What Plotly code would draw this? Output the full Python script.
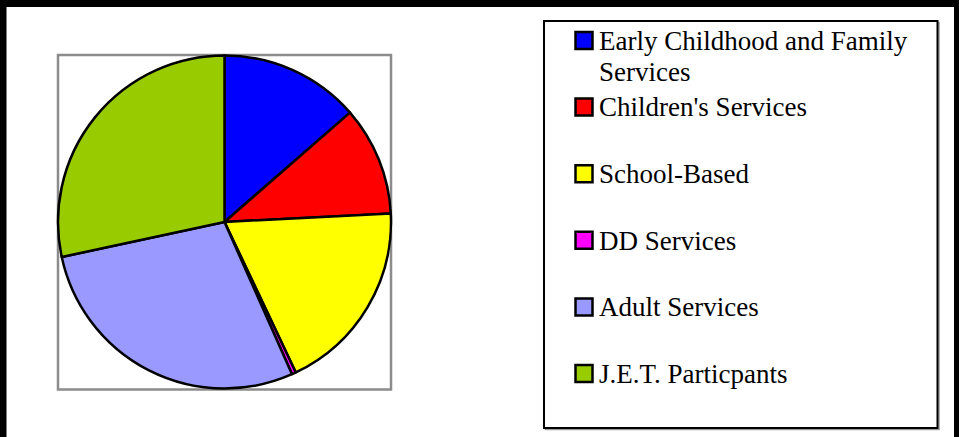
import textwrap
import plotly.graph_objects as go

# ---- data ----
labels = ["Early Childhood and Family Services", "Children's Services", "School-Based",
          "DD Services", "Adult Services", "J.E.T. Particpants"]
values = [13.6, 10.6, 18.8, 0.4, 28.3, 28.4]
colors = ["#0000FF", "#FF0000", "#FFFF00", "#FF00FF", "#9999FF", "#99CC00"]

W, H = 959, 437
FONT = "Liberation Serif, Times New Roman, serif"


def px(x):
    return x / W


def py(y):
    return 1 - y / H


fig = go.Figure()
fig.add_trace(go.Pie(
    labels=labels, values=values, sort=False, direction="clockwise", rotation=0,
    marker=dict(colors=colors, line=dict(color="black", width=2.5)),
    textinfo="none", hoverinfo="label+percent", showlegend=False,
    domain=dict(x=[px(58), px(391)], y=[py(389), py(55)]),
))

shapes = []
annotations = []
# plot-area square (gray)
shapes.append(dict(type="rect", xref="paper", yref="paper", layer="below",
                   x0=px(58), x1=px(391), y0=py(389.5), y1=py(55),
                   line=dict(color="#8c8c8c", width=2.5)))
# outer chart border
shapes.append(dict(type="rect", xref="paper", yref="paper",
                   x0=px(3), x1=px(957.5), y0=py(450), y1=py(3.5),
                   line=dict(color="black", width=7)))
# legend box shadow + box
shapes.append(dict(type="rect", xref="paper", yref="paper",
                   x0=px(545.5), x1=px(939), y0=py(429.5), y1=py(22.5),
                   line=dict(color="#9a9a9a", width=1.5)))
shapes.append(dict(type="rect", xref="paper", yref="paper", fillcolor="white",
                   x0=px(544), x1=px(937.5), y0=py(428), y1=py(21),
                   line=dict(color="black", width=2)))

first_baseline = 50
step = 66.6
line_gap = 31
fs = 27
for i, (lab, col) in enumerate(zip(labels, colors)):
    base = first_baseline + i * step
    cy = base - 9.5
    shapes.append(dict(type="rect", xref="paper", yref="paper", fillcolor=col,
                       x0=px(575.5), x1=px(592.5), y0=py(cy + 8.5), y1=py(cy - 8.5),
                       line=dict(color="black", width=2.5)))
    for j, line in enumerate(textwrap.wrap(lab, 26)):
        annotations.append(dict(xref="paper", yref="paper", x=px(597),
                                y=py(base + j * line_gap - 0.3375 * fs),
                                xanchor="left", yanchor="middle", showarrow=False,
                                text=line, font=dict(family=FONT, size=fs, color="black")))

fig.update_layout(
    width=W, height=H, margin=dict(l=0, r=0, t=0, b=0),
    paper_bgcolor="white", plot_bgcolor="white",
    font=dict(family=FONT, color="black"),
    shapes=shapes, annotations=annotations,
)
fig.write_html("out.html", config={"displayModeBar": False},
               post_script="document.body.style.margin='0px';")
